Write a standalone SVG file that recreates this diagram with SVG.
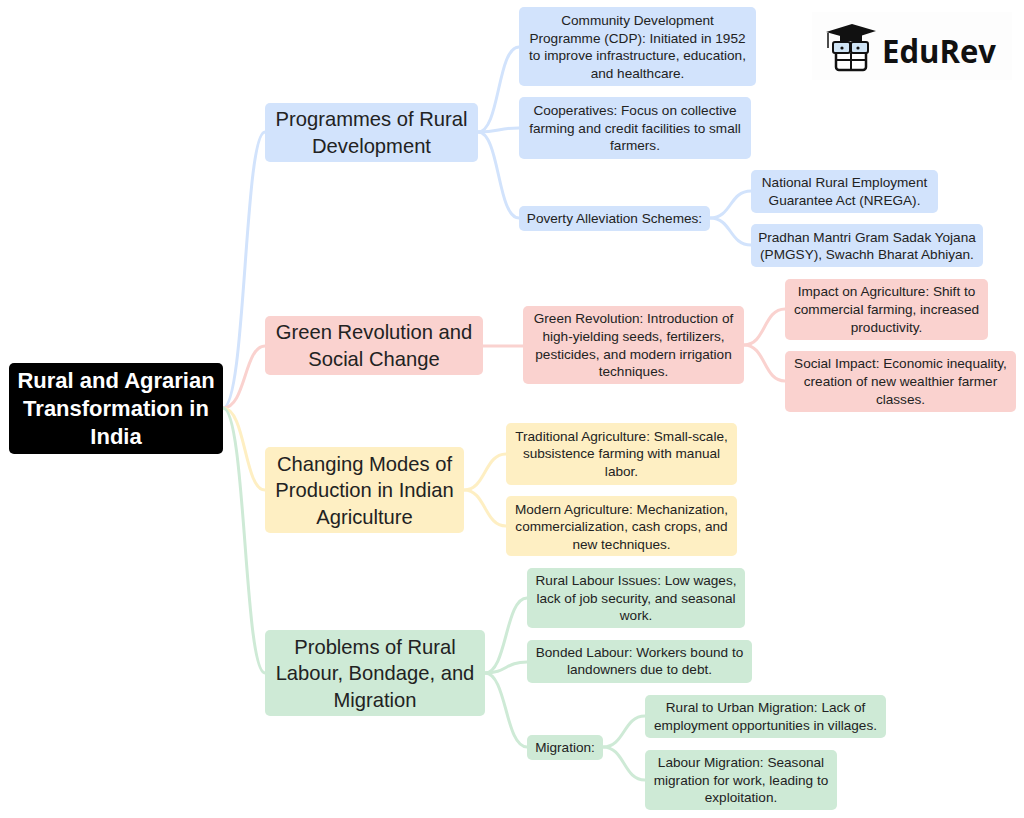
<svg xmlns="http://www.w3.org/2000/svg" width="1024" height="818" viewBox="0 0 1024 818">
<style>
.t{font-family:"Liberation Sans",Arial,sans-serif;fill:#222;text-anchor:middle}
.m{font-size:20.2px}
.s{font-size:13.6px}
.r{font-family:"Liberation Sans",Arial,sans-serif;font-size:22px;font-weight:bold;fill:#fff;text-anchor:middle}
.b{fill:#d2e3fc}.p{fill:#fad2cf}.y{fill:#feefc3}.g{fill:#ceead6}
.cb{stroke:#d2e3fc}.cp{stroke:#fad2cf}.cy{stroke:#feefc3}.cg{stroke:#ceead6}
#connectors path{fill:none;stroke-width:3;stroke-linecap:round}
</style>
<rect width="1024" height="818" fill="#fff"/>
<g id="connectors">
<path class="cb" d="M223 408 C246 408,244 132,265 132"/>
<path class="cp" d="M223 408 C246 408,244 346,265 346"/>
<path class="cy" d="M223 408 C246 408,244 490,265 490"/>
<path class="cg" d="M223 408 C246 408,244 673,265 673"/>
<path class="cb" d="M478 132 C500 132,497 47,519 47"/>
<path class="cb" d="M478 132 C500 132,497 128,519 128"/>
<path class="cb" d="M478 132 C500 132,497 218,519 218"/>
<path class="cb" d="M710 218 C732 218,729 191,751 191"/>
<path class="cb" d="M710 218 C732 218,729 245,751 245"/>
<path class="cp" d="M483 346 L523 346"/>
<path class="cp" d="M744 345 C766 345,763 309,785 309"/>
<path class="cp" d="M744 345 C766 345,763 381,785 381"/>
<path class="cy" d="M464 490 C486 490,484 454,506 454"/>
<path class="cy" d="M464 490 C486 490,484 526,506 526"/>
<path class="cg" d="M485 673 C507 673,505 598,527 598"/>
<path class="cg" d="M485 673 C507 673,505 662,527 662"/>
<path class="cg" d="M485 673 C507 673,505 747,527 747"/>
<path class="cg" d="M603 747 C625 747,623 716,645 716"/>
<path class="cg" d="M603 747 C625 747,623 780,645 780"/>
</g>
<g id="root">
<rect x="9" y="363" width="214" height="91" rx="5" fill="#000"/>
<text class="r"><tspan x="116" y="388">Rural and Agrarian</tspan><tspan x="116" y="416">Transformation in</tspan><tspan x="116" y="444">India</tspan></text>
</g>
<g id="n-programmes">
<rect class="b" x="265" y="103" width="213" height="59" rx="5"/>
<text class="t m"><tspan x="371.5" y="126">Programmes of Rural</tspan><tspan x="371.5" y="153">Development</tspan></text>
</g>
<g id="n-green">
<rect class="p" x="265" y="316" width="218" height="59" rx="5"/>
<text class="t m"><tspan x="374" y="339">Green Revolution and</tspan><tspan x="374" y="366">Social Change</tspan></text>
</g>
<g id="n-changing">
<rect class="y" x="265" y="447" width="199" height="86" rx="5"/>
<text class="t m"><tspan x="364.5" y="471">Changing Modes of</tspan><tspan x="364.5" y="497">Production in Indian</tspan><tspan x="364.5" y="524">Agriculture</tspan></text>
</g>
<g id="n-problems">
<rect class="g" x="265" y="630" width="220" height="86" rx="5"/>
<text class="t m"><tspan x="375" y="654">Problems of Rural</tspan><tspan x="375" y="680">Labour, Bondage, and</tspan><tspan x="375" y="707">Migration</tspan></text>
</g>
<g id="n-cdp">
<rect class="b" x="519" y="7" width="237" height="79" rx="5"/>
<text class="t s"><tspan x="637.5" y="25">Community Development</tspan><tspan x="637.5" y="43">Programme (CDP): Initiated in 1952</tspan><tspan x="637.5" y="60">to improve infrastructure, education,</tspan><tspan x="637.5" y="78">and healthcare.</tspan></text>
</g>
<g id="n-coop">
<rect class="b" x="519" y="97" width="232" height="62" rx="5"/>
<text class="t s"><tspan x="635" y="115">Cooperatives: Focus on collective</tspan><tspan x="635" y="133">farming and credit facilities to small</tspan><tspan x="635" y="150">farmers.</tspan></text>
</g>
<g id="n-poverty">
<rect class="b" x="519" y="206" width="191" height="25" rx="5"/>
<text class="t s"><tspan x="614.5" y="223">Poverty Alleviation Schemes:</tspan></text>
</g>
<g id="n-nrega">
<rect class="b" x="751" y="170" width="187" height="43" rx="5"/>
<text class="t s"><tspan x="844.5" y="187">National Rural Employment</tspan><tspan x="844.5" y="205">Guarantee Act (NREGA).</tspan></text>
</g>
<g id="n-pmgsy">
<rect class="b" x="751" y="224" width="232" height="43" rx="5"/>
<text class="t s"><tspan x="867" y="242">Pradhan Mantri Gram Sadak Yojana</tspan><tspan x="867" y="259">(PMGSY), Swachh Bharat Abhiyan.</tspan></text>
</g>
<g id="n-gr">
<rect class="p" x="523" y="306" width="221" height="78" rx="5"/>
<text class="t s"><tspan x="633.5" y="323">Green Revolution: Introduction of</tspan><tspan x="633.5" y="341">high-yielding seeds, fertilizers,</tspan><tspan x="633.5" y="359">pesticides, and modern irrigation</tspan><tspan x="633.5" y="376">techniques.</tspan></text>
</g>
<g id="n-impact">
<rect class="p" x="785" y="279" width="203" height="61" rx="5"/>
<text class="t s"><tspan x="886.5" y="296">Impact on Agriculture: Shift to</tspan><tspan x="886.5" y="314">commercial farming, increased</tspan><tspan x="886.5" y="332">productivity.</tspan></text>
</g>
<g id="n-social">
<rect class="p" x="785" y="351" width="231" height="61" rx="5"/>
<text class="t s"><tspan x="900.5" y="368">Social Impact: Economic inequality,</tspan><tspan x="900.5" y="386">creation of new wealthier farmer</tspan><tspan x="900.5" y="404">classes.</tspan></text>
</g>
<g id="n-trad">
<rect class="y" x="506" y="423" width="231" height="62" rx="5"/>
<text class="t s"><tspan x="621.5" y="441">Traditional Agriculture: Small-scale,</tspan><tspan x="621.5" y="458">subsistence farming with manual</tspan><tspan x="621.5" y="476">labor.</tspan></text>
</g>
<g id="n-modern">
<rect class="y" x="506" y="496" width="231" height="60" rx="5"/>
<text class="t s"><tspan x="621.5" y="514">Modern Agriculture: Mechanization,</tspan><tspan x="621.5" y="531">commercialization, cash crops, and</tspan><tspan x="621.5" y="549">new techniques.</tspan></text>
</g>
<g id="n-labour">
<rect class="g" x="527" y="568" width="218" height="60" rx="5"/>
<text class="t s"><tspan x="636" y="585">Rural Labour Issues: Low wages,</tspan><tspan x="636" y="603">lack of job security, and seasonal</tspan><tspan x="636" y="620">work.</tspan></text>
</g>
<g id="n-bonded">
<rect class="g" x="527" y="640" width="225" height="43" rx="5"/>
<text class="t s"><tspan x="639.5" y="657">Bonded Labour: Workers bound to</tspan><tspan x="639.5" y="674">landowners due to debt.</tspan></text>
</g>
<g id="n-migration">
<rect class="g" x="527" y="735" width="76" height="25" rx="5"/>
<text class="t s"><tspan x="565" y="752">Migration:</tspan></text>
</g>
<g id="n-rtou">
<rect class="g" x="645" y="695" width="241" height="43" rx="5"/>
<text class="t s"><tspan x="765.5" y="712">Rural to Urban Migration: Lack of</tspan><tspan x="765.5" y="730">employment opportunities in villages.</tspan></text>
</g>
<g id="n-labmig">
<rect class="g" x="645" y="750" width="192" height="60" rx="5"/>
<text class="t s"><tspan x="741" y="767">Labour Migration: Seasonal</tspan><tspan x="741" y="785">migration for work, leading to</tspan><tspan x="741" y="802">exploitation.</tspan></text>
</g>
<g id="logo">
<rect x="812" y="12" width="200" height="68" fill="#fdfdfd"/>
<rect x="836" y="43" width="30" height="27" rx="3" fill="#fff" stroke="#111" stroke-width="2.5"/>
<rect x="833" y="42" width="17" height="11" rx="2" fill="#cfe4f5" stroke="#111" stroke-width="2"/>
<rect x="851" y="42" width="17" height="11" rx="2" fill="#cfe4f5" stroke="#111" stroke-width="2"/>
<line x1="836" y1="60" x2="866" y2="60" stroke="#111" stroke-width="2"/>
<line x1="851" y1="53" x2="851" y2="70" stroke="#111" stroke-width="2"/>
<polygon points="826,32 852,24 876,31 851,39" fill="#111"/>
<rect x="840" y="34" width="22" height="7" fill="#111"/>
<line x1="828" y1="33" x2="828" y2="48" stroke="#111" stroke-width="1.5"/>
<circle cx="842" cy="48" r="1.6" fill="#111"/>
<circle cx="858" cy="48" r="1.6" fill="#111"/>
<text x="882" y="63" font-family="'Open Sans','DejaVu Sans',sans-serif" font-weight="bold" font-size="32" fill="#111" textLength="114" lengthAdjust="spacingAndGlyphs">EduRev</text>
</g>
</svg>
